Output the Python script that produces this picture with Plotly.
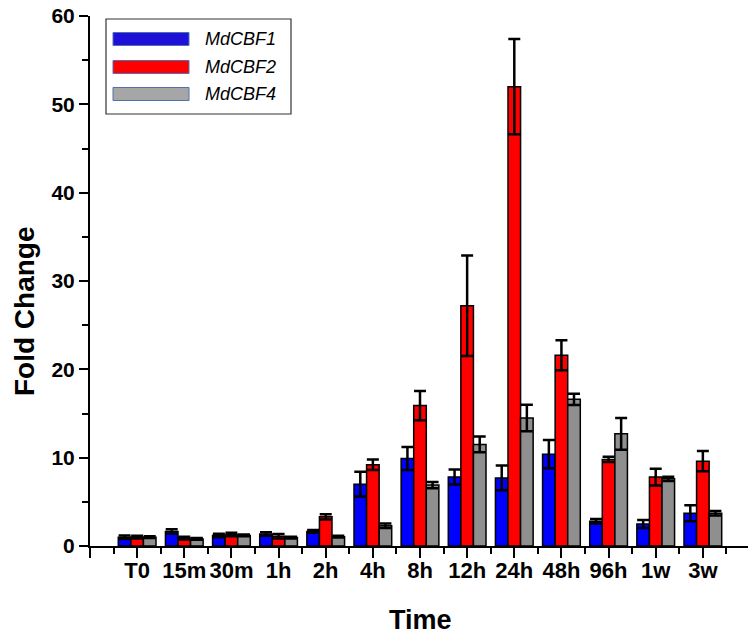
import plotly.graph_objects as go

categories = ["T0", "15m", "30m", "1h", "2h", "4h", "8h", "12h", "24h", "48h", "96h", "1w", "3w"]

cbf1 = [1.0, 1.65, 1.2, 1.35, 1.65, 7.0, 9.9, 7.8, 7.7, 10.4, 2.8, 2.5, 3.7]
cbf1_err = [0.2, 0.25, 0.2, 0.2, 0.15, 1.4, 1.3, 0.85, 1.4, 1.6, 0.25, 0.45, 0.9]

cbf2 = [1.0, 0.9, 1.3, 1.1, 3.3, 9.2, 15.9, 27.2, 52.0, 21.6, 9.8, 7.8, 9.6]
cbf2_err = [0.15, 0.15, 0.2, 0.25, 0.3, 0.6, 1.65, 5.7, 5.4, 1.7, 0.3, 0.95, 1.15]

cbf4 = [1.0, 0.8, 1.2, 0.95, 1.05, 2.3, 6.9, 11.5, 14.5, 16.6, 12.7, 7.6, 3.7]
cbf4_err = [0.1, 0.1, 0.1, 0.1, 0.1, 0.25, 0.35, 0.9, 1.5, 0.65, 1.8, 0.25, 0.25]

series_names = ["MdCBF1", "MdCBF2", "MdCBF4"]
bar_colors = ["#0000FF", "#FF0000", "#8F8F8F"]
legend_colors = ["#1E10D8", "#FF0000", "#A6A6A6"]

positions = list(range(len(categories)))

FONT = "Arial, Liberation Sans, sans-serif"

fig = go.Figure()
for name, vals, errs, col in zip(series_names, [cbf1, cbf2, cbf4],
                                 [cbf1_err, cbf2_err, cbf4_err], bar_colors):
    fig.add_trace(go.Bar(
        x=positions, y=vals, name=name,
        marker=dict(color=col, line=dict(color="black", width=1.5)),
        error_y=dict(type="data", array=errs, visible=True,
                     color="black", thickness=2.5, width=6),
        showlegend=False,
    ))

# page body margin offset (browser default 8px)
OFF = 8
W, H = 756 - OFF, 637 - OFF
# plot area in screen pixel coordinates
PX0, PX1, PY0, PY1 = 90, 750, 16, 546
L = PX0 - OFF
T = PY0 - OFF
R = W - (PX1 - OFF)
B = H - (PY1 - OFF)
pw, ph = PX1 - PX0, PY1 - PY0


def px_x(x):
    return (x - PX0) / pw


def px_y(y):
    return (PY1 - y) / ph


shapes = []
annotations = []
# legend frame
shapes.append(dict(type="rect", xref="paper", yref="paper",
                   x0=px_x(106), x1=px_x(291), y0=px_y(114), y1=px_y(19),
                   line=dict(color="#333333", width=1.2), fillcolor="white"))
row_y = [39, 67, 94]
for name, col, ry in zip(series_names, legend_colors, row_y):
    shapes.append(dict(type="rect", xref="paper", yref="paper",
                       x0=px_x(113), x1=px_x(189), y0=px_y(ry + 6.5), y1=px_y(ry - 6.5),
                       line=dict(color="#5070B0", width=1), fillcolor=col))
    annotations.append(dict(xref="paper", yref="paper", x=px_x(203), y=px_y(ry),
                            xanchor="left", yanchor="middle", showarrow=False,
                            text="<i>%s</i>" % name,
                            font=dict(family=FONT, size=18, color="black")))

# axis titles
annotations.append(dict(xref="paper", yref="paper", x=px_x(420), y=px_y(620),
                        xanchor="center", yanchor="middle", showarrow=False,
                        text="<b>Time</b>",
                        font=dict(family=FONT, size=27, color="black")))
annotations.append(dict(xref="paper", yref="paper", x=px_x(24), y=px_y(311),
                        xanchor="center", yanchor="middle", showarrow=False,
                        textangle=-90, text="<b>Fold Change</b>",
                        font=dict(family=FONT, size=28, color="black")))

fig.update_layout(
    width=W, height=H,
    margin=dict(l=L, r=R, t=T, b=B, pad=0, autoexpand=False),
    plot_bgcolor="white", paper_bgcolor="white",
    barmode="group", bargap=0.2, bargroupgap=0,
    shapes=shapes, annotations=annotations,
    font=dict(family=FONT, color="black"),
)

fig.update_xaxes(
    range=[-1, 13],
    tickmode="array",
    tickvals=list(range(-1, len(categories) + 1)),
    ticktext=[""] + [f"<b>{c}</b>" for c in categories] + [""],
    tickangle=0,
    ticks="outside", ticklen=10, tickwidth=2, tickcolor="black",
    showline=True, linecolor="black", linewidth=2,
    showgrid=False, zeroline=False, automargin=False,
    ticklabeloverflow="allow",
    tickfont=dict(family=FONT, size=22, color="black"),
    minor=dict(tick0=-0.5, dtick=1, ticks="outside", ticklen=6, tickwidth=2,
               tickcolor="black", showgrid=False),
)
try:
    fig.update_xaxes(ticklabelstandoff=-6)
except Exception:
    pass

fig.update_yaxes(
    range=[0, 60],
    tickmode="linear", tick0=0, dtick=10,
    ticks="outside", ticklen=9, tickwidth=2, tickcolor="black",
    showline=True, linecolor="black", linewidth=2,
    showgrid=False, zeroline=False, automargin=False,
    ticklabeloverflow="allow",
    tickfont=dict(family=FONT, size=21, color="black"),
    tickprefix="<b>", ticksuffix="</b>",
    minor=dict(dtick=5, ticks="outside", ticklen=6, tickwidth=2,
               tickcolor="black", showgrid=False),
)

fig.write_html("out.html")
